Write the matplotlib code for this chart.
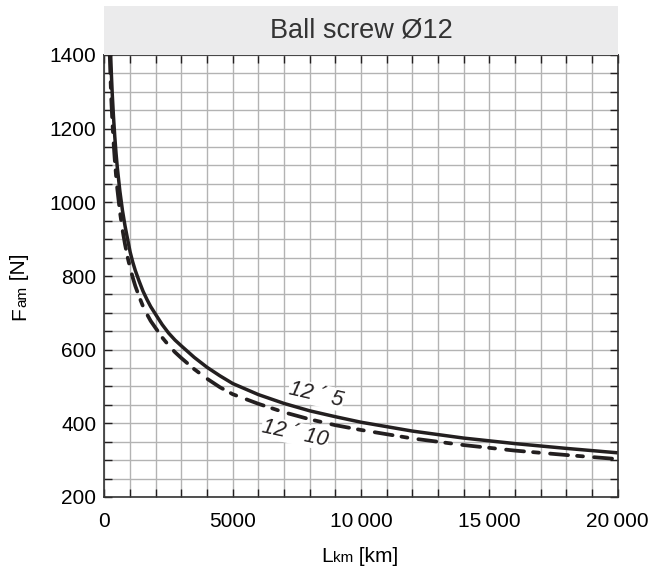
import matplotlib
matplotlib.use("Agg")
import matplotlib.pyplot as plt
from matplotlib.patches import Rectangle
from matplotlib.ticker import MultipleLocator, FixedLocator

plt.rcParams['font.family'] = ['Liberation Sans', 'DejaVu Sans']
plt.rcParams['lines.scale_dashes'] = False

# Service life L_km [km] vs. mean axial load F_am [N]
life_12x5 = [240, 270, 300, 350, 400, 450, 500, 600, 700, 800, 900, 1000,
             1100, 1200, 1350, 1500, 1650, 1800, 2000, 2250, 2500, 2750, 3000,
             3500, 4000, 4500, 5000, 6000, 7000, 8000, 9000, 10000, 12000,
             14000, 16000, 18000, 20000]
load_12x5 = [1400, 1345, 1297, 1233, 1179, 1133, 1094, 1030, 978, 936, 900,
             865, 838, 815, 786, 759, 737, 717, 695, 668, 645, 626, 610,
             579, 552, 529, 508, 478, 454, 434, 418, 403, 379, 360, 345, 332,
             320]

life_12x10 = [205, 230, 250, 275, 300, 350, 400, 450, 500, 600, 700, 800, 900,
              1000, 1100, 1200, 1350, 1500, 1650, 1800, 2000, 2250, 2500,
              2750, 3000, 3500, 4000, 4500, 5000, 6000, 7000, 8000, 9000,
              10000, 12000, 14000, 16000, 18000, 20000]
load_12x10 = [1400, 1346, 1305, 1264, 1228, 1166, 1116, 1073, 1036, 975, 926,
              886, 851, 822, 796, 773, 744, 718, 697, 678, 658, 633, 612,
              593, 577, 547, 521, 498, 479, 453, 430, 411, 395, 382, 359, 341,
              326, 314, 303]

x_ticks = [0, 5000, 10000, 15000, 20000]
x_tick_labels = ['0', '5000', '10\u2009000', '15\u2009000', '20\u2009000']
y_ticks = [200, 400, 600, 800, 1000, 1200, 1400]
y_tick_labels = ['200', '400', '600', '800', '1000', '1200', '1400']

title = 'Ball screw Ø12'
label_12x5 = '12 ´ 5'
label_12x10 = '12 ´ 10'

W, H = 649, 574
fig = plt.figure(figsize=(W / 100, H / 100), dpi=100)
ax_l, ax_r, ax_t, ax_b = 104.5, 617.5, 55, 497
ax = fig.add_axes([ax_l / W, 1 - ax_b / H, (ax_r - ax_l) / W, (ax_b - ax_t) / H])

ink = '#231f20'

# header band
band_top = 6.5
fig.patches.append(Rectangle((ax_l / W, 1 - ax_t / H), (ax_r - ax_l) / W,
                             (ax_t - band_top) / H, transform=fig.transFigure,
                             facecolor='#ebebec', edgecolor='none', zorder=0))
fig.text((ax_l + ax_r) / 2 / W, 1 - 31 / H, title, ha='center', va='center',
         fontsize=19.5, color='#333333')

ax.set_xlim(0, 20000)
ax.set_ylim(200, 1400)

ax.plot(life_12x5, load_12x5, color=ink, lw=2.5, solid_capstyle='butt',
        solid_joinstyle='round', zorder=3)
ax.plot(life_12x10, load_12x10, color=ink, lw=2.7,
        dashes=(13, 6.5, 4.3, 8), dash_capstyle='round', zorder=3)

ax.xaxis.set_major_locator(FixedLocator(x_ticks))
ax.set_xticklabels(x_tick_labels)
ax.xaxis.set_minor_locator(MultipleLocator(1000))
ax.yaxis.set_major_locator(FixedLocator(y_ticks))
ax.set_yticklabels(y_tick_labels)
ax.yaxis.set_minor_locator(MultipleLocator(50))

ax.grid(which='both', color='#b3b3b3', lw=1.0, zorder=1)
ax.set_axisbelow(True)
ax.tick_params(which='both', direction='in', top=True, right=True,
               length=5.5, width=1.0, color=ink, labelsize=15,
               labelcolor='black')
ax.tick_params(axis='x', which='both', pad=11)
ax.tick_params(axis='y', which='both', pad=6)
for s in ax.spines.values():
    s.set_color('#333333')
    s.set_linewidth(1.2)

box = dict(facecolor='white', edgecolor='none', pad=0.5)
ax.text(8250, 478, label_12x5, rotation=-13, ha='center', va='center',
        fontsize=15.5, style='italic', color=ink, bbox=box, zorder=4)
ax.text(7430, 373, label_12x10, rotation=-12, ha='center', va='center',
        fontsize=15.5, style='italic', color=ink, bbox=box, zorder=4)

# axis titles with small subscripts sitting on the baseline
tx = fig.text(333 / W, 1 - 556 / H, 'L', fontsize=15, ha='right', va='center')
fig.canvas.draw()
sub = ax.annotate('km', xy=(1, 0), xycoords=tx, ha='left', va='bottom',
                  fontsize=11, annotation_clip=False)
ax.annotate(' [km]', xy=(1, 0), xycoords=sub, ha='left', va='bottom',
            fontsize=15, annotation_clip=False)

ty = fig.text(20 / W, 1 - 320 / H, 'F', fontsize=15, rotation=90,
              ha='center', va='bottom')
suby = ax.annotate('am', xy=(1, 1), xycoords=ty, ha='right', va='bottom',
                   rotation=90, fontsize=11, annotation_clip=False)
ax.annotate(' [N]', xy=(1, 1), xycoords=suby, ha='right', va='bottom',
            rotation=90, fontsize=15, annotation_clip=False)

fig.savefig('out.png', dpi=100)
